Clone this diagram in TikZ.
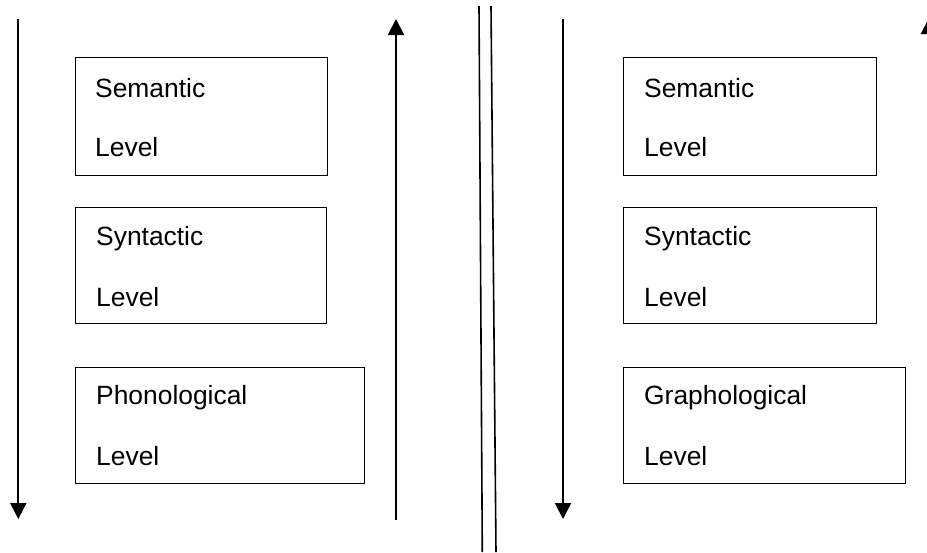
\documentclass[tikz,border=0pt]{standalone}
\usepackage{fontspec}
\setmainfont{Liberation Sans}
\usetikzlibrary{arrows.meta}
\tikzset{
  levelbox/.style={draw=black, line width=1.4pt, rectangle, inner sep=0pt, anchor=north west},
  leveltext/.style={anchor=base west, inner sep=0pt, font=\fontsize{26.4}{30}\selectfont},
  flow/.style={line width=2pt, -{Triangle[length=16pt,width=16pt]}},
  divider/.style={line width=1.6pt}
}
\begin{document}
\begin{tikzpicture}[x=1pt,y=-1pt]
\useasboundingbox (0,0) rectangle (927,552);
\clip (0,0) rectangle (927,552);
\fill[white] (0,0) rectangle (927,552);

% ---- left side boxes ----
\node[levelbox, minimum width=252pt, minimum height=118pt] (l1) at (75,57) {};
\node[levelbox, minimum width=251pt, minimum height=116pt] (l2) at (75,207) {};
\node[levelbox, minimum width=289pt, minimum height=116pt] (l3) at (75,367) {};

\node[leveltext] (l1a) at ([xshift=20pt,yshift=-40pt]l1.north west) {Semantic};
\node[leveltext] (l1b) at ([xshift=20pt,yshift=-99pt]l1.north west) {Level};
\node[leveltext] (l2a) at ([xshift=21pt,yshift=-38pt]l2.north west) {Syntactic};
\node[leveltext] (l2b) at ([xshift=21pt,yshift=-99pt]l2.north west) {Level};
\node[leveltext] (l3a) at ([xshift=21pt,yshift=-37pt]l3.north west) {Phonological};
\node[leveltext] (l3b) at ([xshift=21pt,yshift=-98pt]l3.north west) {Level};

% ---- right side boxes ----
\node[levelbox, minimum width=253pt, minimum height=118pt] (r1) at (623,57) {};
\node[levelbox, minimum width=253pt, minimum height=116pt] (r2) at (623,207) {};
\node[levelbox, minimum width=282pt, minimum height=116pt] (r3) at (623,367) {};

\node[leveltext] (r1a) at ([xshift=21pt,yshift=-40pt]r1.north west) {Semantic};
\node[leveltext] (r1b) at ([xshift=21pt,yshift=-99pt]r1.north west) {Level};
\node[leveltext] (r2a) at ([xshift=21pt,yshift=-38pt]r2.north west) {Syntactic};
\node[leveltext] (r2b) at ([xshift=21pt,yshift=-99pt]r2.north west) {Level};
\node[leveltext] (r3a) at ([xshift=21pt,yshift=-37pt]r3.north west) {Graphological};
\node[leveltext] (r3b) at ([xshift=21pt,yshift=-98pt]r3.north west) {Level};

% ---- arrows ----
\coordinate (a1s) at (18.3,19);
\coordinate (a1e) at (18.3,519);
\coordinate (a2s) at (396,520);
\coordinate (a2e) at (396,19);
\coordinate (a3s) at (563,19);
\coordinate (a3e) at (563,519);
\coordinate (a4s) at (929,520);
\coordinate (a4e) at (929,18);
\draw[flow] (a1s) -- (a1e);
\draw[flow] (a2s) -- (a2e);
\draw[flow] (a3s) -- (a3e);
\draw[flow] (a4s) -- (a4e);

% ---- double divider ----
\coordinate (d1t) at (479,6);
\coordinate (d1b) at (482.3,552);
\coordinate (d2t) at (491,6);
\coordinate (d2b) at (496,552);
\draw[divider] (d1t) -- (d1b);
\draw[divider] (d2t) -- (d2b);
\end{tikzpicture}
\end{document}
